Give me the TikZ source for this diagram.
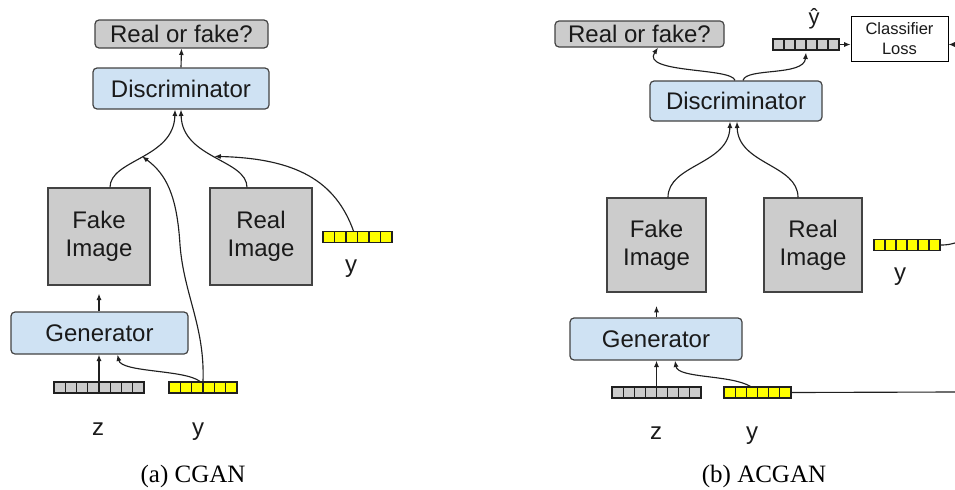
\documentclass[tikz,border=0pt]{standalone}
\usepackage{fontspec}
\setmainfont{Liberation Sans}
\newfontfamily\capfont{Liberation Serif}
\usetikzlibrary{arrows.meta,calc}

\definecolor{boxgray}{HTML}{CCCCCC}
\definecolor{edgegray}{HTML}{434343}
\definecolor{netblue}{HTML}{CFE2F3}
\definecolor{vecyellow}{HTML}{FFFF00}
\definecolor{inkgray}{HTML}{1A1A1A}
\definecolor{wire}{HTML}{202020}

\tikzset{
  base/.style={draw=edgegray, line width=0.9pt, text=inkgray,
    font=\fontsize{18}{21}\selectfont, inner sep=0pt, align=center},
  answer/.style={base, rounded corners=3pt, fill=boxgray},
  net/.style={base, rounded corners=3pt, fill=netblue},
  img/.style={base, fill=boxgray},
  lossbox/.style={draw=black, line width=0.6pt, fill=white, text=inkgray,
    font=\fontsize{12.4}{15}\selectfont, align=center, inner sep=0pt},
  cells/.style={path picture={
    \foreach \k in {1,...,#1}{
      \draw[line width=0.8pt, draw=wire]
        ($(path picture bounding box.south west)!{\k/#1}!(path picture bounding box.south east)$)
        -- ($(path picture bounding box.north west)!{\k/#1}!(path picture bounding box.north east)$);
    }}},
  vec/.style={draw=wire, line width=0.8pt, inner sep=0pt, minimum height=8.25pt},
  label/.style={text=inkgray, font=\fontsize{18}{21}\selectfont, anchor=base, inner sep=0pt},
  caption/.style={text=black, font=\capfont\fontsize{18.75}{22}\selectfont, anchor=base, inner sep=0pt},
  conn/.style={draw=wire, line width=0.85pt},
  arr/.style={conn, -{Latex[length=4.8pt,width=3.8pt]}},
}

\begin{document}
\begin{tikzpicture}[x=0.75pt, y=-0.75pt]
\useasboundingbox (0,0) rectangle (955,489);

% ---------------- (a) CGAN ----------------
\node[answer, minimum width=129.75pt, minimum height=21pt] (rf1) at (181.5,34) {Real or fake?};
\node[net, minimum width=132pt, minimum height=30.75pt] (d1) at (181,88.5) {Discriminator};
\node[img, minimum width=76.5pt, minimum height=72.75pt] (fake1) at (99,236.5) {Fake\\Image};
\node[img, minimum width=76.5pt, minimum height=72.75pt] (real1) at (261,236.5) {Real\\Image};
\node[net, minimum width=132.75pt, minimum height=31.5pt] (g1) at (99.5,333) {Generator};
\node[vec, fill=boxgray, minimum width=67.5pt, cells=8] (z1) at (99,387.5) {};
\node[vec, fill=vecyellow, minimum width=51pt, cells=6] (y1) at (203,387.5) {};
\node[vec, fill=vecyellow, minimum width=51.75pt, cells=6] (yr1) at (357.5,237) {};
\node[label] (zl1) at (98,435) {z};
\node[label] (yl1) at (198,435) {y};
\node[label] (yrl1) at (351,272.5) {y};
\node[caption] (cap1) at (193,482) {(a) CGAN};

\draw[arr] (d1.north) -- (rf1.south);
\draw[arr] ($(fake1.north)+(11,0)$) .. controls +(0,-28) and ($(d1.south)+(-7,49)$) ..
  coordinate[pos=0.5] (jl) ($(d1.south)+(-6,0)$);
\draw[arr] ($(real1.north)+(-14,0)$) .. controls +(0,-28) and ($(d1.south)+(1,49)$) ..
  coordinate[pos=0.5] (jr) (d1.south);
\draw[arr] (y1.north) .. controls +(2,-55) and (184,295) .. (180,245)
  .. controls (177,195) and (166,174) .. (jl);
\draw[arr] ($(yr1.north)+(-4,0)$) .. controls +(-18,-50) and ($(jr)+(82,2)$) .. (jr);
\draw[arr] ($(y1.north)+(-3,0)$) .. controls +(-15,-12) and ($(g1.south)+(22,18)$) ..
  ($(g1.south)+(18,0)$);
\draw[arr] (z1.north) -- (z1.north |- g1.south);
\draw[arr, shorten >=6pt] (g1.north -| fake1.south) -- (fake1.south);

% ---------------- (b) ACGAN ----------------
\node[answer, minimum width=126.75pt, minimum height=19.5pt] (rf2) at (639.5,34) {Real or fake?};
\node[vec, fill=boxgray, minimum width=49.5pt, cells=6] (yh) at (806,44.5) {};
\node[label, font=\fontsize{16.5}{20}\selectfont] (yhl) at (814,24) {ŷ};
\node[lossbox, minimum width=72.75pt, minimum height=33.75pt] (cl) at (899.5,38.5) {Classifier\\Loss};
\node[net, minimum width=129pt, minimum height=30pt] (d2) at (736,101) {Discriminator};
\node[img, minimum width=74.25pt, minimum height=70.5pt] (fake2) at (656.5,245) {Fake\\Image};
\node[img, minimum width=73.5pt, minimum height=70.5pt] (real2) at (813,245) {Real\\Image};
\node[net, minimum width=129pt, minimum height=31.5pt] (g2) at (656,339) {Generator};
\node[vec, fill=boxgray, minimum width=66.75pt, cells=8] (z2) at (656.5,392.5) {};
\node[vec, fill=vecyellow, minimum width=50.25pt, cells=6] (y2) at (757.5,392.5) {};
\node[vec, fill=vecyellow, minimum width=49.5pt, cells=6] (yr2) at (907,245) {};
\node[label] (zl2) at (656,439.5) {z};
\node[label] (yl2) at (752,439.5) {y};
\node[label] (yrl2) at (900,280) {y};
\node[caption] (cap2) at (764,482) {(b) ACGAN};

\coordinate (outA) at (955,392);
\coordinate (outB) at (955,243);
\coordinate (outC) at (955,44.5);

\draw[arr] ($(d2.north)+(-1,0)$) .. controls +(-3,-13) and ($(rf2.south)+(1,26)$) .. ($(rf2.south)+(18.5,0)$);
\draw[arr] ($(d2.north)+(7,0)$) .. controls +(3,-13) and ($(yh.south)+(-2,26)$) .. ($(yh.south)+(0,2)$);
\draw[arr] (yh.east) -- (yh.east -| cl.west);
\draw[arr] (outC) -- (outC -| cl.east);
\draw[arr] ($(fake2.north)+(11.5,0)$) .. controls +(0,-33) and ($(d2.south)+(-7,43)$) .. ($(d2.south)+(-6,0)$);
\draw[arr] ($(real2.north)+(-15,0)$) .. controls +(0,-33) and ($(d2.south)+(2,43)$) .. ($(d2.south)+(1,0)$);
\draw[arr, shorten >=10pt] (g2.north -| fake2.south) -- (fake2.south);
\draw[arr] (z2.north) -- (z2.north |- g2.south);
\draw[arr] ($(y2.north)+(-7,0)$) .. controls +(-20,-12) and ($(g2.south)+(22,18)$) .. ($(g2.south)+(19,0)$);
\draw[conn] (y2.east) -- (outA);
\draw[conn] (yr2.east) .. controls +(8,0) and +(-4,1) .. (outB);
\end{tikzpicture}
\end{document}
